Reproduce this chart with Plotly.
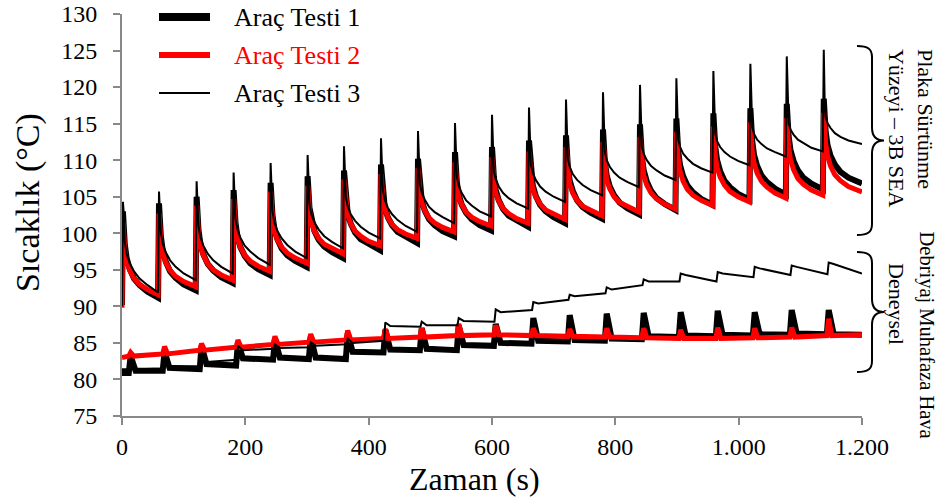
import plotly.graph_objects as go

# ---------------- data ----------------
END_S = 1200

# Peak times of the 20 load cycles (s)
cycle_peak_s = [1.5, 60, 121, 181, 241, 301, 360, 420, 480, 540,
                600, 660, 720, 780, 840, 899, 959, 1019, 1078, 1138]
# Sample instants after each peak used for the cool-down part (s)
decay_offsets_s = [3, 6, 11, 18, 27, 40]

# --- Plate friction surface, 3D FEA ---
test1_plate_start = 90.2
test1_plate_peak = [103.0, 104.1, 105.0, 105.9, 106.9, 107.8, 108.6, 109.4, 110.2, 111.1,
                    111.8, 112.7, 113.4, 114.2, 114.9, 115.7, 116.4, 117.1, 117.7, 118.4]
test1_plate_decay = [
    [98.5, 96.6, 95.1, 93.8, 92.9, 92.0], [99.6, 97.7, 96.1, 94.8, 93.9, 93.0],
    [100.5, 98.6, 97.1, 95.8, 94.9, 94.0], [101.5, 99.6, 98.1, 96.9, 95.9, 95.1],
    [102.5, 100.7, 99.2, 97.9, 97.0, 96.2], [103.5, 101.8, 100.3, 99.1, 98.2, 97.4],
    [104.5, 102.7, 101.3, 100.1, 99.2, 98.5], [105.3, 103.6, 102.2, 101.1, 100.2, 99.5],
    [106.2, 104.5, 103.1, 101.9, 101.1, 100.3], [107.0, 105.3, 103.9, 102.8, 101.9, 101.1],
    [107.7, 105.9, 104.5, 103.3, 102.4, 101.7], [108.4, 106.6, 105.1, 103.9, 103.0, 102.2],
    [109.1, 107.2, 105.8, 104.5, 103.6, 102.8], [109.8, 107.9, 106.4, 105.2, 104.2, 103.4],
    [110.5, 108.6, 107.1, 105.8, 104.8, 104.0], [111.2, 109.3, 107.8, 106.5, 105.6, 104.7],
    [111.9, 110.0, 108.5, 107.2, 106.3, 105.4], [112.6, 110.7, 109.2, 107.9, 107.0, 106.1],
    [113.3, 111.4, 109.9, 108.6, 107.6, 106.8], [114.0, 112.1, 110.6, 109.4, 108.4, 107.6]]
test1_plate_trough = [91.2, 92.2, 93.2, 94.3, 95.4, 96.6, 97.7, 98.7, 99.6, 100.4,
                      100.9, 101.4, 102.0, 102.6, 103.2, 103.9, 104.6, 105.3, 106.0, 106.8]

test2_plate_start = 89.8
test2_plate_peak = [101.5, 102.7, 103.8, 104.7, 105.7, 106.5, 107.4, 108.1, 108.9, 109.7,
                    110.4, 111.2, 111.8, 112.5, 113.2, 113.9, 114.6, 115.2, 115.8, 116.5]
test2_plate_decay = [
    [97.7, 96.2, 94.9, 93.8, 93.0, 92.3], [98.9, 97.3, 96.0, 94.9, 94.1, 93.4],
    [99.9, 98.3, 97.0, 95.8, 95.0, 94.3], [100.9, 99.4, 98.1, 97.0, 96.2, 95.5],
    [102.0, 100.4, 99.1, 98.1, 97.3, 96.6], [103.0, 101.5, 100.3, 99.3, 98.5, 97.9],
    [103.9, 102.5, 101.3, 100.3, 99.6, 98.9], [104.8, 103.4, 102.2, 101.2, 100.5, 99.9],
    [105.6, 104.2, 103.1, 102.1, 101.4, 100.8], [106.4, 105.0, 103.9, 102.9, 102.2, 101.6],
    [107.0, 105.5, 104.4, 103.4, 102.7, 102.0], [107.7, 106.2, 105.0, 104.0, 103.2, 102.6],
    [108.2, 106.7, 105.5, 104.5, 103.7, 103.1], [108.9, 107.3, 106.1, 105.0, 104.2, 103.6],
    [109.4, 107.9, 106.6, 105.5, 104.7, 104.0], [110.1, 108.5, 107.1, 106.0, 105.2, 104.5],
    [110.7, 109.0, 107.7, 106.6, 105.7, 105.0], [111.2, 109.6, 108.2, 107.1, 106.3, 105.5],
    [111.8, 110.1, 108.7, 107.5, 106.7, 105.9], [112.4, 110.6, 109.2, 108.0, 107.2, 106.4]]
test2_plate_trough = [91.6, 92.7, 93.6, 94.8, 95.9, 97.2, 98.3, 99.3, 100.2, 101.0,
                      101.4, 101.9, 102.4, 102.9, 103.3, 103.8, 104.3, 104.8, 105.2, 105.65]

test3_plate_start = 90.0
test3_plate_spike = [104.3, 105.7, 107.1, 108.3, 109.6, 110.7, 111.9, 113.0, 114.0, 115.1,
                     116.2, 117.2, 118.3, 119.3, 120.3, 121.2, 122.2, 123.2, 124.2, 125.1]
test3_plate_after_spike = [102.5, 103.6, 104.5, 105.4, 106.4, 107.3, 108.1, 108.9, 109.7, 110.6,
                           111.3, 112.2, 112.9, 113.7, 114.4, 115.2, 115.9, 116.6, 117.2, 117.9]
test3_plate_decay = [
    [98.8, 97.2, 95.9, 94.8, 93.8, 92.9], [100.1, 98.6, 97.4, 96.3, 95.4, 94.5],
    [101.0, 99.5, 98.3, 97.2, 96.3, 95.4], [102.0, 100.6, 99.4, 98.3, 97.5, 96.6],
    [103.0, 101.5, 100.3, 99.3, 98.4, 97.5], [104.0, 102.6, 101.5, 100.5, 99.6, 98.8],
    [105.0, 103.7, 102.6, 101.7, 100.9, 100.1], [105.9, 104.6, 103.5, 102.6, 101.8, 101.0],
    [106.8, 105.6, 104.6, 103.6, 102.9, 102.2], [107.7, 106.5, 105.5, 104.5, 103.8, 103.0],
    [108.5, 107.4, 106.4, 105.5, 104.8, 104.1], [109.4, 108.3, 107.3, 106.4, 105.7, 105.0],
    [110.2, 109.1, 108.1, 107.3, 106.6, 105.9], [111.1, 110.0, 109.1, 108.3, 107.6, 107.0],
    [111.9, 110.9, 110.0, 109.2, 108.6, 107.9], [112.8, 111.8, 110.9, 110.2, 109.5, 108.9],
    [113.6, 112.6, 111.8, 111.1, 110.5, 109.9], [114.5, 113.6, 112.8, 112.2, 111.6, 111.1],
    [115.1, 114.2, 113.5, 112.8, 112.3, 111.7], [115.9, 115.1, 114.4, 113.7, 113.2, 112.7]]
test3_plate_trough = [91.9, 93.6, 94.5, 95.7, 96.6, 97.95, 99.3, 100.2, 101.4, 102.3,
                      103.4, 104.3, 105.2, 106.3, 107.3, 108.3, 109.3, 110.5, 111.2, 112.2]

# --- Clutch housing air, experimental ---
air_bump_s = [14, 69, 129, 188, 248, 306, 366, 427, 486, 546,
              606, 667, 726, 786, 846, 906, 966, 1026, 1086, 1146]

test1_air_start = 80.9
test1_air_peak = [83.2, 83.8, 84.6, 85.0, 85.5, 85.8, 86.3, 86.8, 87.0, 87.4,
                  87.6, 88.4, 88.8, 89.0, 89.1, 89.2, 89.4, 89.2, 89.5, 89.5]
test1_air_plateau = [
    [81.2, 81.2], [81.6, 81.4], [82.1, 81.9], [82.9, 82.7], [83.0, 82.8],
    [83.0, 82.8], [83.8, 83.7], [84.1, 84.0], [84.2, 84.0], [84.7, 84.6],
    [85.0, 84.9], [85.3, 85.2], [85.4, 85.3], [85.6, 85.5], [85.9, 85.8],
    [86.0, 85.9], [86.1, 86.0], [86.2, 86.1], [86.3, 86.2], [86.2, 86.1]]

test2_air_start = 83.0
test2_air_end = 86.1
test2_air_base = [83.2, 83.5, 84.0, 84.4, 84.8, 85.1, 85.4, 85.6, 85.8, 86.0,
                  86.1, 86.0, 85.9, 85.8, 85.7, 85.6, 85.6, 85.7, 85.8, 86.0]
test2_air_peak = [83.7, 84.5, 84.9, 85.4, 85.9, 86.2, 86.7, 86.9, 87.0, 87.6,
                  87.4, 87.0, 86.9, 87.0, 87.0, 86.8, 87.1, 87.0, 87.1, 88.3]

test3_air_start = 81.4
test3_air_peak = [81.9, 82.6, 83.3, 84.6, 84.8, 85.1, 85.6, 87.8, 87.9, 88.4,
                  89.6, 90.6, 91.6, 92.6, 93.7, 94.5, 94.7, 95.4, 95.6, 96.0]
test3_air_plateau = [
    [81.4, 81.5], [81.8, 81.8], [82.4, 82.7], [84.0, 84.2], [84.3, 84.4],
    [84.6, 84.8], [85.0, 85.3], [87.3, 87.2], [87.4, 87.4], [88.0, 87.9],
    [89.2, 89.5], [90.4, 90.9], [91.4, 91.8], [92.3, 92.9], [93.4, 93.4],
    [94.3, 93.4], [94.5, 94.0], [95.2, 94.3], [95.4, 94.4], [95.8, 94.5]]

x_tick_vals = [0, 200, 400, 600, 800, 1000, 1200]
x_tick_text = ["0", "200", "400", "600", "800", "1.000", "1.200"]
series_names = ["Araç Testi 1", "Araç Testi 2", "Araç Testi 3"]
bracket_labels = [["Plaka Sürtünme", "Yüzeyi – 3B SEA"], ["Debriyaj Muhafaza Hava", "Deneysel"]]


# ---------------- series assembly ----------------
def plate_series(start, peaks, decays, troughs, spikes=None):
    t, v = [0.0], [start]
    n = len(cycle_peak_s)
    for k, p in enumerate(cycle_peak_s):
        if spikes is not None:
            t += [p, p + 1.5]
            v += [spikes[k], peaks[k]]
        else:
            t.append(p)
            v.append(peaks[k])
        for off, val in zip(decay_offsets_s, decays[k]):
            t.append(p + off)
            v.append(val)
        t.append(cycle_peak_s[k + 1] - 1.5 if k + 1 < n else END_S)
        v.append(troughs[k])
    return t, v


def air_series(start, peaks, plateaus, lead=3, settle=8):
    t, v = [0.0], [start]
    prev = start
    for k, b in enumerate(air_bump_s):
        t += [b - lead, b, b + settle]
        v += [prev, peaks[k], plateaus[k][0]]
        prev = plateaus[k][1]
    t.append(END_S)
    v.append(prev)
    return t, v


def air_base_series(start, base, peaks, end):
    t, v = [0.0], [start]
    for k, b in enumerate(air_bump_s):
        t += [b - 3, b, b + 5]
        v += [base[k], peaks[k], base[k]]
    t.append(END_S)
    v.append(end)
    return t, v


p1 = plate_series(test1_plate_start, test1_plate_peak, test1_plate_decay, test1_plate_trough)
p2 = plate_series(test2_plate_start, test2_plate_peak, test2_plate_decay, test2_plate_trough)
p3 = plate_series(test3_plate_start, test3_plate_after_spike, test3_plate_decay,
                  test3_plate_trough, spikes=test3_plate_spike)
a1 = air_series(test1_air_start, test1_air_peak, test1_air_plateau)
a2 = air_base_series(test2_air_start, test2_air_base, test2_air_peak, test2_air_end)
a3 = air_series(test3_air_start, test3_air_peak, test3_air_plateau, lead=2, settle=8)

styles = [dict(color="black", width=6), dict(color="#ff0000", width=5), dict(color="black", width=2)]

fig = go.Figure()
for (plate, air), name, st in zip([(p1, a1), (p2, a2), (p3, a3)], series_names, styles):
    for part in (air, plate):
        fig.add_trace(go.Scatter(x=part[0], y=part[1], mode="lines", name=name,
                                 line=dict(color=st["color"], width=st["width"]),
                                 showlegend=False, hoverinfo="skip"))

# ---------------- layout ----------------
FONT = "Liberation Serif"
W, H = 947, 499
L, R, T, B = 122, 85, 14, 83
PW, PH = W - L - R, H - T - B


def fx(px):
    return (px - L) / PW


def fy(py):
    return (H - B - py) / PH


def serif(size, color="black"):
    return dict(family=FONT, size=size, color=color)


axis_grey = "#898989"
axis_common = dict(showline=True, linecolor=axis_grey, linewidth=2,
                   ticks="outside", ticklen=7, tickwidth=2, tickcolor=axis_grey,
                   showgrid=False, zeroline=False, layer="below traces",
                   automargin=False, tickfont=serif(24))
fig.update_layout(
    width=W, height=H,
    margin=dict(l=L, r=R, t=T, b=B, autoexpand=False),
    paper_bgcolor="white", plot_bgcolor="white",
    showlegend=False,
    font=serif(20),
    xaxis=dict(range=[0, END_S], tickvals=x_tick_vals, ticktext=x_tick_text,
               ticklabelstandoff=1, **axis_common),
    yaxis=dict(range=[75, 130], tick0=75, dtick=5, ticklabelstandoff=11, **axis_common),
)

annotations = []
# axis titles
annotations.append(dict(text="Sıcaklık (°C)", x=fx(28), y=fy(203), xref="paper", yref="paper",
                        textangle=-90, showarrow=False, font=serif(34),
                        xanchor="center", yanchor="middle"))
annotations.append(dict(text="Zaman (s)", x=fx(474), y=fy(479), xref="paper", yref="paper",
                        showarrow=False, font=serif(32), xanchor="center", yanchor="middle"))

# legend drawn inside the plot
shapes = []
legend_rows = [17, 55, 93]
legend_colors = ["black", "#ff0000", "black"]
legend_widths = [8, 6, 2.2]
for row, name, col, lw in zip(legend_rows, series_names, legend_colors, legend_widths):
    shapes.append(dict(type="line", xref="paper", yref="paper",
                       x0=fx(159), x1=fx(210), y0=fy(row), y1=fy(row),
                       line=dict(color=col, width=lw)))
    annotations.append(dict(text=name, x=fx(232), y=fy(row), xref="paper", yref="paper",
                            showarrow=False, xanchor="left", yanchor="middle",
                            font=serif(26, col)))


# curly brackets on the right
def brace(top, bottom, x_end=857, x_mid=872, x_tip=884):
    mid = (top + bottom) / 2
    r = 9
    pts = [
        f"M{fx(x_end)},{fy(top)}",
        f"C{fx(x_mid - 4)},{fy(top)} {fx(x_mid)},{fy(top + 3)} {fx(x_mid)},{fy(top + r + 2)}",
        f"L{fx(x_mid)},{fy(mid - r - 4)}",
        f"C{fx(x_mid)},{fy(mid - 4)} {fx(x_mid + 4)},{fy(mid)} {fx(x_tip)},{fy(mid)}",
        f"C{fx(x_mid + 4)},{fy(mid)} {fx(x_mid)},{fy(mid + 4)} {fx(x_mid)},{fy(mid + r + 4)}",
        f"L{fx(x_mid)},{fy(bottom - r - 2)}",
        f"C{fx(x_mid)},{fy(bottom - 3)} {fx(x_mid - 4)},{fy(bottom)} {fx(x_end)},{fy(bottom)}",
    ]
    return dict(type="path", xref="paper", yref="paper", path=" ".join(pts),
                line=dict(color="black", width=2))


shapes.append(brace(46, 235))
shapes.append(brace(252, 372))

label_pos = [[(926, 47, "top", 22), (897, 47, "top", 22)],
             [(926, 229, "top", 20.5), (897, 304, "middle", 22)]]
for labels, positions in zip(bracket_labels, label_pos):
    for text, (px, py, anchor, size) in zip(labels, positions):
        annotations.append(dict(text=text, x=fx(px), y=fy(py), xref="paper", yref="paper",
                                textangle=90, showarrow=False, xanchor="center", yanchor=anchor,
                                font=serif(size)))

fig.update_layout(annotations=annotations, shapes=shapes)
fig.write_html("out.html")
